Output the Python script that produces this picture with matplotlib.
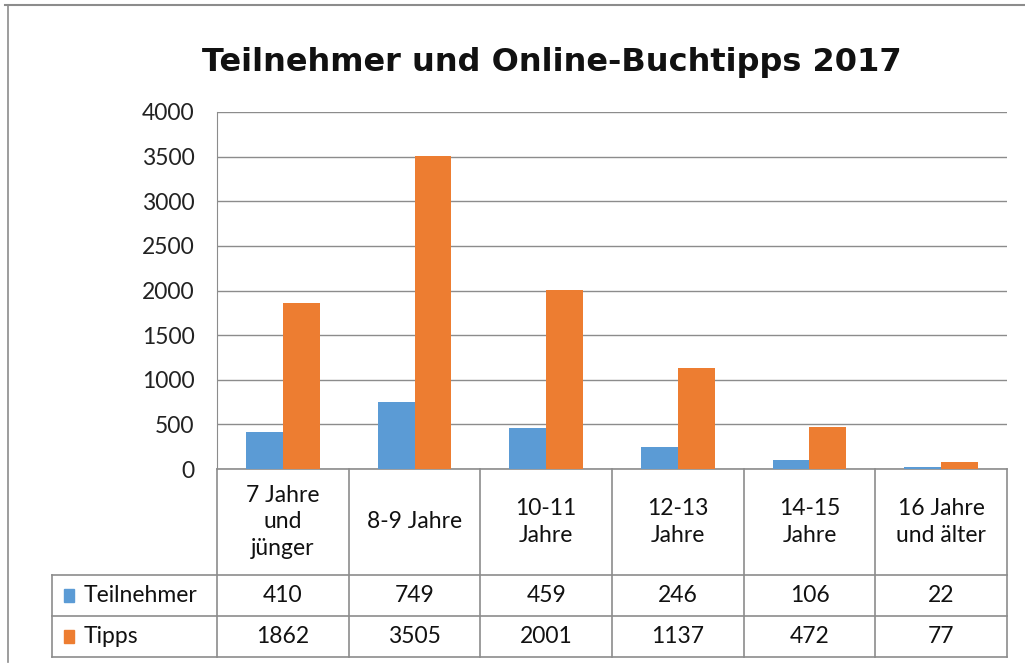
import matplotlib
matplotlib.use("Agg")
import matplotlib.pyplot as plt
from matplotlib.transforms import blended_transform_factory
from matplotlib.patches import Rectangle

categories = ["7 Jahre\nund\njünger", "8-9 Jahre", "10-11\nJahre", "12-13\nJahre",
              "14-15\nJahre", "16 Jahre\nund älter"]
teilnehmer = [410, 749, 459, 246, 106, 22]
tipps = [1862, 3505, 2001, 1137, 472, 77]
series_names = ["Teilnehmer", "Tipps"]
colors = ["#5B9BD5", "#ED7D31"]

plt.rcParams["font.family"] = ["Lato", "DejaVu Sans"]
W, H = 1025, 666
fs = 16.5
fig = plt.figure(figsize=(W / 100, H / 100), dpi=100)

# outer chart frame (top and left edges visible)
fig.add_artist(plt.Line2D([5 / W, 1], [1 - 5 / H, 1 - 5 / H], color="#8c8c8c", lw=1.5))
fig.add_artist(plt.Line2D([8 / W, 8 / W], [1 - 5 / H, 1 - 662 / H], color="#8c8c8c", lw=1.2))

left, right, top, bottom = 217, 1007, 112, 469
ax = fig.add_axes([left / W, 1 - bottom / H, (right - left) / W, (bottom - top) / H])

n = len(categories)
x = list(range(n))
w = 0.28
ax.bar([i - w / 2 for i in x], teilnehmer, width=w, color=colors[0], zorder=3)
ax.bar([i + w / 2 for i in x], tipps, width=w, color=colors[1], zorder=3)

ax.set_xlim(-0.5, n - 0.5)
ax.set_ylim(0, 4000)
ax.set_yticks(range(0, 4001, 500))
ax.yaxis.grid(True, color="#8c8c8c", lw=1)
ax.set_axisbelow(True)
ax.set_xticks([])
ax.tick_params(axis="y", length=0, pad=16, labelsize=fs, labelcolor="#222222")
for s in ["top", "right", "bottom"]:
    ax.spines[s].set_visible(False)
ax.spines["left"].set_color("#8c8c8c")

fig.text(552 / W, 1 - 62 / H, "Teilnehmer und Online-Buchtipps 2017",
         ha="center", va="center", fontsize=23, fontweight="bold",
         color="#111111", family="DejaVu Sans")

# data table below the plot
tr = blended_transform_factory(ax.transData, ax.transAxes)
span = bottom - top
def fy(py):
    return (bottom - py) / span

row_y = [469, 575, 616, 657]
x_lab = -0.5 - 165 / ((right - left) / n)
lc = "#8c8c8c"
kw = dict(transform=tr, clip_on=False, color=lc, lw=1.2)
ax.plot([-0.5, n - 0.5], [fy(row_y[0])] * 2, **kw)
for py in row_y[1:]:
    ax.plot([x_lab, n - 0.5], [fy(py)] * 2, **kw)
for k in range(n + 1):
    ax.plot([k - 0.5] * 2, [fy(row_y[0]), fy(row_y[-1])], **kw)
ax.plot([x_lab] * 2, [fy(row_y[1]), fy(row_y[-1])], **kw)

hdr_y = fy((row_y[0] + row_y[1]) / 2)
for i, c in enumerate(categories):
    ax.text(i, hdr_y, c, transform=tr, ha="center", va="center", fontsize=fs,
            color="#111111", linespacing=1.3)

for r, (name, vals) in enumerate(zip(series_names, [teilnehmer, tipps])):
    yc = fy((row_y[r + 1] + row_y[r + 2]) / 2)
    for i, v in enumerate(vals):
        ax.text(i, yc, str(v), transform=tr, ha="center", va="center",
                fontsize=fs, color="#111111")
    ax.add_patch(Rectangle((x_lab + 0.09, yc - 0.017), 0.08, 0.034, transform=tr,
                           color=colors[r], clip_on=False))
    ax.text(x_lab + 0.24, yc, name, transform=tr, ha="left", va="center",
            fontsize=fs, color="#111111")

fig.savefig("out.png", dpi=100)
